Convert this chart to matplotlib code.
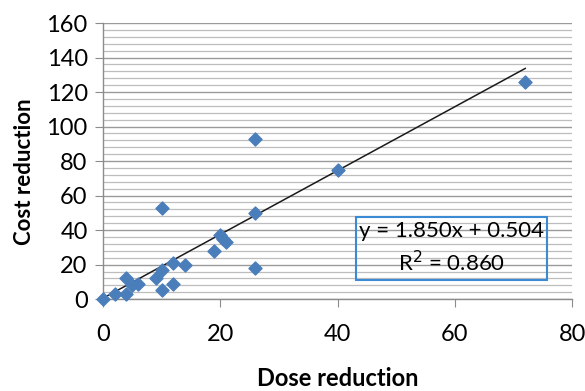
import matplotlib.pyplot as plt
from matplotlib.patches import Rectangle
from matplotlib.ticker import MultipleLocator
import numpy as np

plt.rcParams['font.family'] = ['Lato', 'DejaVu Sans']

# dose reduction vs cost reduction
dose = [0, 2, 4, 4, 5, 6, 9, 10, 10, 10, 12, 12, 14, 19, 20, 20.5, 21, 26, 26, 26, 40, 72]
cost = [0, 3, 12, 3, 8, 9, 12, 53, 17, 5, 21, 9, 20, 28, 37, 35, 33, 93, 50, 18, 75, 126]

slope = 1.850
intercept = 0.504
r2 = 0.860

fig = plt.figure(figsize=(5.85, 3.91), dpi=100)
ax = fig.add_axes([0.176, 0.235, 0.802, 0.706])

ax.set_xlim(0, 80)
ax.set_ylim(0, 160)
ax.xaxis.set_major_locator(MultipleLocator(20))
ax.yaxis.set_major_locator(MultipleLocator(20))
ax.yaxis.set_minor_locator(MultipleLocator(4))

ax.grid(axis='y', which='major', color='#9a9a9a', lw=1.0)
ax.grid(axis='y', which='minor', color='#bdbdbd', lw=0.9)
ax.set_axisbelow(True)

for s in ['top', 'right']:
    ax.spines[s].set_visible(False)
for s in ['left', 'bottom']:
    ax.spines[s].set_color('#8c8c8c')
    ax.spines[s].set_linewidth(1.0)

ax.tick_params(axis='both', which='major', length=6, color='#8c8c8c', labelsize=17, pad=5)
ax.tick_params(axis='y', which='minor', length=0)
ax.tick_params(axis='x', pad=12)

# trendline
xs = np.array([0, max(dose)])
ax.plot(xs, slope * xs + intercept, color='#1a1a1a', lw=1.1, zorder=2)

ax.scatter(dose, cost, marker='D', s=44, color='#4a7ebb', zorder=3, clip_on=False)

ax.add_patch(Rectangle((43.2, 11), 32.6, 36.5, fill=False, edgecolor='#3a8ad6', lw=1.5, zorder=4))
ax.text(59.5, 39.5, 'y = %.3fx + %.3f' % (slope, intercept), ha='center', va='center', fontsize=16, zorder=5)
ax.text(59.5, 21, 'R$^2$ = %.3f' % r2, ha='center', va='center', fontsize=16, zorder=5)

ax.set_xlabel('Dose reduction', fontsize=17, fontweight='bold', labelpad=16)
ax.set_ylabel('Cost reduction', fontsize=16, fontweight='bold')
ax.yaxis.set_label_coords(-0.145, 0.46)

fig.savefig('out.png', dpi=100)
